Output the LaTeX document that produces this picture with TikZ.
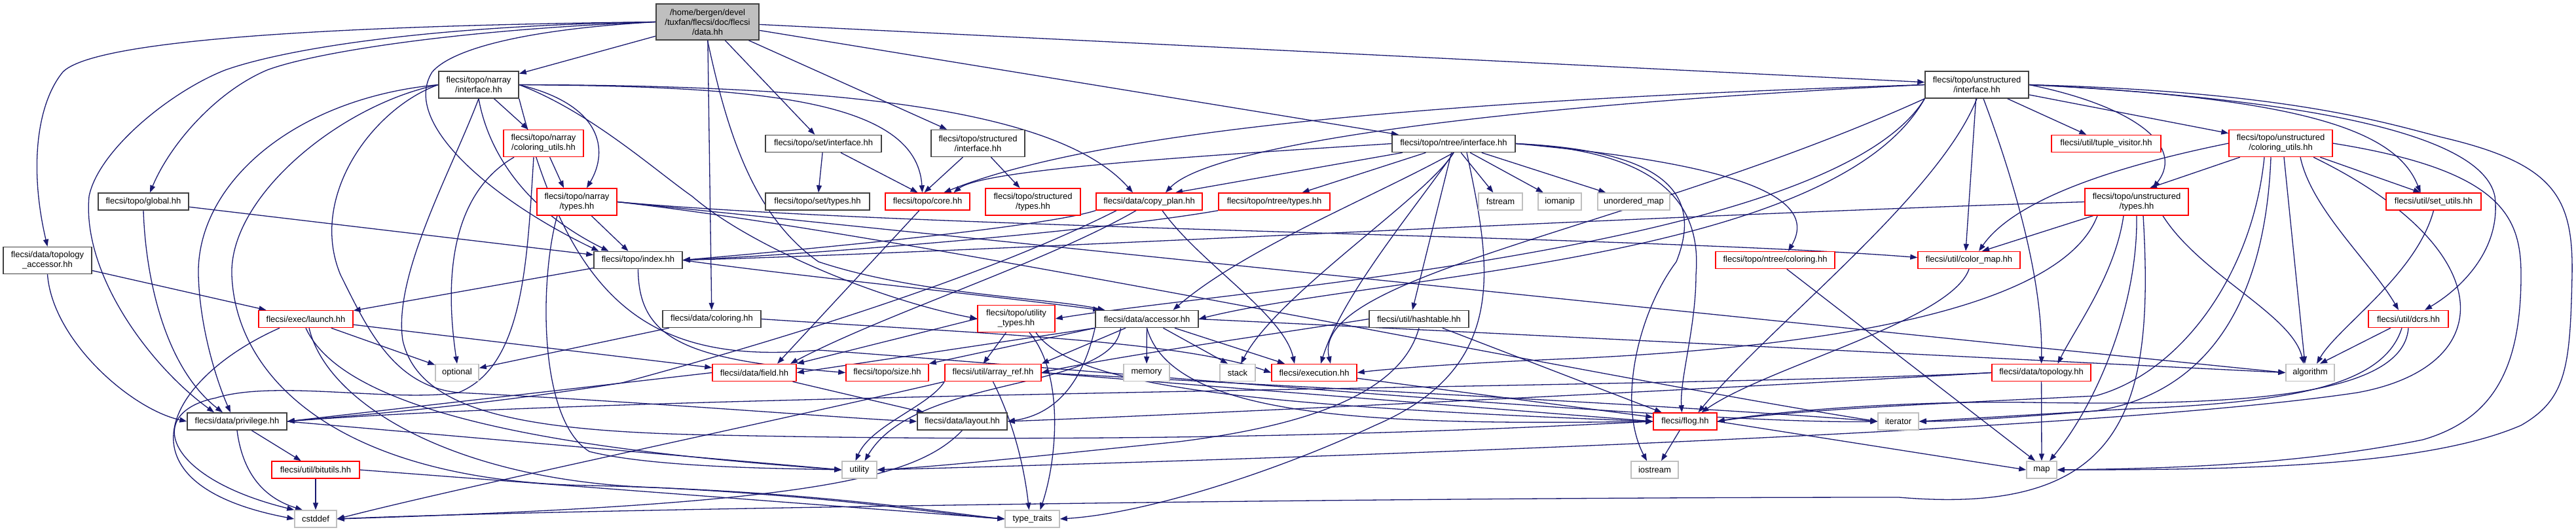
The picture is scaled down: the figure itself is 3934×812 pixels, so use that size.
\documentclass[tikz,border=0pt]{standalone}
\usepackage{fontspec}
\setmainfont{Liberation Sans}
\usetikzlibrary{arrows.meta}
\definecolor{edgeblue}{HTML}{191970}
\definecolor{gdark}{HTML}{404040}
\definecolor{glight}{HTML}{BFBFBF}
\pgfdeclarelayer{bg}
\pgfsetlayers{bg,main}
\begin{document}
\begin{tikzpicture}[x=1pt,y=-1pt,
  nb/.style={draw=gdark, fill=white, line width=1.5pt, rectangle, inner sep=0pt, align=center, font=\fontsize{13}{15}\selectfont},
  nr/.style={nb, draw=red},
  ng/.style={nb, draw=glight},
  rootn/.style={nb, fill=glight},
  wd/.style={minimum width=#1},
  h1/.style={minimum height=26},
  h2/.style={minimum height=41},
  edg/.style={draw=edgeblue, line width=1.3pt, -{Triangle[length=11pt,width=8pt]}},
]
\useasboundingbox (0,0) rectangle (3934,812);
% ---------- nodes ----------
\node[rootn, wd=157, minimum height=55] (D) at (1080.5,33.5) {/home/bergen/devel\\/tuxfan/flecsi/doc/flecsi\\/data.hh};
\node[nb, wd=135, h2] (TA) at (72.5,398) {flecsi/data/topology\\\_accessor.hh};
\node[nb, wd=138, h1] (GL) at (219,308) {flecsi/topo/global.hh};
\node[nb, wd=122, h2] (NI) at (731,129.5) {flecsi/topo/narray\\/interface.hh};
\node[nr, wd=122, h2] (NCU) at (830,219) {flecsi/topo/narray\\/coloring\_utils.hh};
\node[nr, wd=122, h2] (NT) at (881,308.5) {flecsi/topo/narray\\/types.hh};
\node[nb, wd=135, h1] (IX) at (974.5,397.5) {flecsi/topo/index.hh};
\node[nr, wd=144, h1] (LA) at (467,487.5) {flecsi/exec/launch.hh};
\node[ng, wd=66, h1] (OP) at (698,569.5) {optional};
\node[nb, wd=152, h1] (PR) at (362,644) {flecsi/data/privilege.hh};
\node[nr, wd=134, h1] (BU) at (482,718) {flecsi/util/bitutils.hh};
\node[ng, wd=64, h1] (CS) at (482,793) {cstddef};
\node[nb, wd=177, h1] (SI) at (1257.5,219.5) {flecsi/topo/set/interface.hh};
\node[nb, wd=143, h2] (STI) at (1493.5,219) {flecsi/topo/structured\\/interface.hh};
\node[nb, wd=159, h1] (ST) at (1248.5,308) {flecsi/topo/set/types.hh};
\node[nr, wd=129, h1] (CO) at (1416.5,308) {flecsi/topo/core.hh};
\node[nr, wd=145, h2] (STT) at (1577.5,308.5) {flecsi/topo/structured\\/types.hh};
\node[nr, wd=162, h1] (CP) at (1755,308) {flecsi/data/copy\_plan.hh};
\node[nr, wd=170, h1] (NTT) at (1946,308) {flecsi/topo/ntree/types.hh};
\node[nb, wd=150, h1] (DC) at (1087,487.5) {flecsi/data/coloring.hh};
\node[nr, wd=118, h2] (UTY) at (1552,487) {flecsi/topo/utility\\\_types.hh};
\node[nb, wd=157, h1] (AC) at (1751.5,487.5) {flecsi/data/accessor.hh};
\node[nr, wd=128, h1] (FI) at (1152,569.5) {flecsi/data/field.hh};
\node[nr, wd=126, h1] (SZ) at (1355,569.5) {flecsi/topo/size.hh};
\node[nr, wd=147, h1] (AR) at (1516.5,569.5) {flecsi/util/array\_ref.hh};
\node[ng, wd=70, h1] (ME) at (1751,569.5) {memory};
\node[ng, wd=54, h1] (STK) at (1890,569.5) {stack};
\node[nr, wd=130, h1] (EX) at (2007,569.5) {flecsi/execution.hh};
\node[nb, wd=137, h1] (LY) at (1469.5,644) {flecsi/data/layout.hh};
\node[ng, wd=53, h1] (UTIL) at (1312.5,718) {utility};
\node[ng, wd=83, h1] (TT) at (1576.5,793) {type\_traits};
\node[nb, wd=188, h1] (NTI) at (2220,219.5) {flecsi/topo/ntree/interface.hh};
\node[ng, wd=67, h1] (FS) at (2291.5,308) {fstream};
\node[ng, wd=66, h1] (IM) at (2382,308) {iomanip};
\node[ng, wd=110, h1] (UM) at (2495,308) {unordered\_map};
\node[nr, wd=182, h1] (NTC) at (2711,397.5) {flecsi/topo/ntree/coloring.hh};
\node[nb, wd=152, h1] (HT) at (2167,487.5) {flecsi/util/hashtable.hh};
\node[nr, wd=97, h1] (FL) at (2573.5,644) {flecsi/flog.hh};
\node[ng, wd=72, h1] (IOS) at (2527,718) {iostream};
\node[ng, wd=62, h1] (IT) at (2899,644) {iterator};
\node[nb, wd=158, h2] (UI) at (3019,129.5) {flecsi/topo/unstructured\\/interface.hh};
\node[nr, wd=167, h1] (TV) at (3216.5,219.5) {flecsi/util/tuple\_visitor.hh};
\node[nr, wd=158, h2] (UCU) at (3483,219) {flecsi/topo/unstructured\\/coloring\_utils.hh};
\node[nr, wd=158, h2] (UT) at (3263,308.5) {flecsi/topo/unstructured\\/types.hh};
\node[nr, wd=145, h1] (SU) at (3716.5,308) {flecsi/util/set\_utils.hh};
\node[nr, wd=156, h1] (CM) at (3007,397.5) {flecsi/util/color\_map.hh};
\node[nr, wd=151, h1] (TOP) at (3117.5,569.5) {flecsi/data/topology.hh};
\node[ng, wd=74, h1] (ALG) at (3528,569.5) {algorithm};
\node[nr, wd=122, h1] (DCRS) at (3678,487.5) {flecsi/util/dcrs.hh};
\node[ng, wd=46, h1] (MAP) at (3118,718) {map};
% ---------- edges ----------
\begin{pgfonlayer}{bg}
\fill[white] (0,0) rectangle (3934,812);
% data.hh
\draw[edg] (D.west) .. controls (450,40) and (140,65) .. (96,110) .. controls (55,160) and (45,260) .. (TA.north);
\draw[edg] (D.west) .. controls (620,40) and (420,80) .. (344,107) .. controls (260,140) and (150,230) .. (136,300) .. controls (125,420) and (230,560) .. ([xshift=-35pt]PR.north);
\draw[edg] (D.west) .. controls (700,45) and (480,80) .. (408,107) .. controls (330,140) and (260,220) .. ([xshift=10pt]GL.north);
\draw[edg] (D.west) .. controls (800,45) and (690,75) .. (660,110) .. controls (610,190) and (760,310) .. ([xshift=-60pt]IX.north);
\draw[edg] (D) -- (NI);
\draw[edg] (D) -- (DC);
\draw[edg] (D) -- (SI);
\draw[edg] (D) -- (STI);
\draw[edg] (D) -- (NTI);
\draw[edg] (D) -- (UI);
\draw[edg] (D.south) .. controls (1110,200) and (1150,330) .. (1250,400) .. controls (1400,450) and (1600,455) .. ([xshift=15pt]AC.north west);
% topology_accessor, global
\draw[edg] (TA.south) .. controls (80,520) and (200,625) .. (PR.west);
\draw[edg] (TA) -- (LA);
\draw[edg] (GL.south) .. controls (222,420) and (250,560) .. ([xshift=-22pt]PR.north);
\draw[edg] (GL) -- (IX);
% narray/interface
\draw[edg] (NI) -- (NCU);
\draw[edg] (NI.east) .. controls (920,160) and (930,230) .. ([xshift=15pt]NT.north);
\draw[edg] (NI.west) .. controls (450,150) and (300,280) .. (303,420) .. controls (305,500) and (330,580) .. ([xshift=-10pt]PR.north);
\draw[edg] (NI.west) .. controls (520,160) and (350,300) .. (354,420) .. controls (360,580) and (520,735) .. (900,742) .. controls (1250,750) and (1450,785) .. (TT.west);
\draw[edg] (NI.west) .. controls (570,165) and (470,300) .. (520,420) .. controls (560,500) and (600,590) .. (700,600) .. controls (1000,615) and (1300,640) .. (LY.west);
\draw[edg] (NI.south) .. controls (690,260) and (600,420) .. (615,520) .. controls (640,630) and (800,660) .. (1100,665) .. controls (1800,680) and (2300,655) .. (FL.west);
\draw[edg] (NI.south) .. controls (745,230) and (800,320) .. ([xshift=-45pt]IX.north);
\draw[edg] (NI.east) .. controls (1150,132) and (1400,150) .. ([xshift=-8pt]CO.north);
\draw[edg] (NI.east) .. controls (1300,130) and (1620,170) .. ([xshift=-25pt]CP.north);
\draw[edg] (NI.east) .. controls (900,170) and (1000,260) .. (1057,300) .. controls (1150,380) and (1350,460) .. (UTY.west);
\draw[edg] (NI.south east) .. controls (870,450) and (980,560) .. (1250,535) .. controls (1600,560) and (2600,650) .. (IT.west);
% narray/coloring_utils
\draw[edg] (NCU) -- ([xshift=-20pt]NT.north);
\draw[edg] ([xshift=-45pt]NCU.south) .. controls (700,290) and (675,400) .. (OP.north);
\draw[edg] ([xshift=-15pt]NCU.south) .. controls (805,400) and (800,560) .. (700,600) .. controls (600,615) and (420,580) .. (330,608) .. controls (220,630) and (250,730) .. (CS.north west);
% narray/types
\draw[edg] (NT) -- ([xshift=-15pt]IX.north);
\draw[edg] ([xshift=-30pt]NT.south) .. controls (825,420) and (820,640) .. (900,690) .. controls (1000,715) and (1200,716) .. (UTIL.west);
\draw[edg] (NT.east) .. controls (1400,350) and (2500,360) .. ([yshift=4pt]CM.west);
\draw[edg] (NT.east) .. controls (1400,355) and (2800,500) .. (ALG.west);
\draw[edg] (NT.east) .. controls (1400,360) and (2400,570) .. (IT.west);
% index
\draw[edg] (IX) -- (LA);
\draw[edg] (IX.south) .. controls (975,520) and (1050,550) .. (SZ.west);
\draw[edg] (IX.east) .. controls (1200,420) and (1500,450) .. ([xshift=8pt]AC.north west);
% launch
\draw[edg] (LA) -- (OP);
\draw[edg] (LA) -- (FI);
\draw[edg] ([xshift=-40pt]LA.south) .. controls (250,580) and (170,740) .. (CS.west);
\draw[edg] (LA.south) .. controls (530,640) and (900,690) .. (UTIL.west);
\draw[edg] ([xshift=5pt]LA.south) .. controls (500,620) and (700,735) .. (1000,745) .. controls (1300,760) and (1450,788) .. (TT.west);
% privilege, bitutils
\draw[edg] (PR) -- (BU);
\draw[edg] (PR.south) .. controls (370,720) and (400,760) .. ([xshift=-20pt]CS.north);
\draw[edg] (PR.east) -- (UTIL.west);
\draw[edg] (BU) -- (CS);
\draw[edg] (BU.east) -- (TT.west);
% data/coloring
\draw[edg] (DC) -- (OP);
\draw[edg] (DC.east) .. controls (1500,510) and (1800,520) .. (EX.west);
% set, structured, core
\draw[edg] (SI) -- (ST);
\draw[edg] (SI) -- ([xshift=-15pt]CO.north);
\draw[edg] (STI) -- ([xshift=-5pt]CO.north);
\draw[edg] (STI) -- (STT);
\draw[edg] (CO) -- ([xshift=35pt]FI.north);
% copy_plan
\draw[edg] (CP.south west) .. controls (1600,345) and (1300,375) .. (IX.east);
\draw[edg] ([xshift=-20pt]CP.south) .. controls (1600,400) and (1350,480) .. ([xshift=55pt]FI.north);
\draw[edg] ([xshift=20pt]CP.south) .. controls (1830,400) and (1960,480) .. ([xshift=-30pt]EX.north);
\draw[edg] ([xshift=-50pt]CP.south) .. controls (1550,400) and (1300,490) .. (950,585) .. controls (700,625) and (500,638) .. (PR.east);
% utility_types
\draw[edg] (UTY.west) -- (FI.north east);
\draw[edg] (UTY) -- ([xshift=-15pt]AR.north);
\draw[edg] ([xshift=20pt]UTY.south) .. controls (1625,570) and (1615,700) .. ([xshift=12pt]TT.north);
\draw[edg] ([xshift=30pt]UTY.south) .. controls (1640,590) and (1900,620) .. (FL.west);
% accessor
\draw[edg] (AC.south west) -- (FI.east);
\draw[edg] (AC.south west) -- (SZ.north east);
\draw[edg] (AC) -- (AR.north east);
\draw[edg] (AC) -- (ME);
\draw[edg] (AC) -- ([xshift=-15pt]STK.north);
\draw[edg] (AC) -- ([xshift=-45pt]EX.north);
\draw[edg] (AC.south) .. controls (1790,640) and (2100,650) .. (FL.west);
\draw[edg] (AC.south west) .. controls (1650,600) and (1600,635) .. (LY.east);
\draw[edg] (AC.east) .. controls (2300,510) and (3000,545) .. (ALG.west);
\draw[edg] ([xshift=-40pt]AC.south) .. controls (1700,600) and (1400,570) .. ([xshift=8pt]UTIL.north);
% field, array_ref, execution, layout
\draw[edg] (FI) -- (LY);
\draw[edg] (FI.west) -- (PR.east);
\draw[edg] (AR.south west) .. controls (1420,620) and (1330,650) .. ([xshift=-6pt]UTIL.north);
\draw[edg] (AR.south) .. controls (1550,650) and (1565,720) .. ([xshift=-5pt]TT.north);
\draw[edg] (AR.south west) .. controls (1200,640) and (700,745) .. (CS.east);
\draw[edg] (AR.east) -- (FL.west);
\draw[edg] (AR.east) .. controls (2000,592) and (2600,622) .. (IT.west);
\draw[edg] (EX) -- (FL);
\draw[edg] (LY.south) .. controls (1400,730) and (1250,770) .. (CS.east);
% hashtable, flog
\draw[edg] (HT.west) .. controls (1950,510) and (1700,545) .. (AR.east);
\draw[edg] (HT) -- (FL);
\draw[edg] (HT.south) .. controls (2140,600) and (2000,650) .. (1800,675) .. controls (1600,695) and (1450,712) .. (UTIL.east);
\draw[edg] (FL) -- ([xshift=10pt]IOS.north);
\draw[edg] (FL.east) -- (MAP.west);
% ntree types / coloring, color_map
\draw[edg] (NTT.south west) .. controls (1700,350) and (1300,385) .. (IX.east);
\draw[edg] (NTC) -- ([xshift=-10pt]MAP.north);
\draw[edg] (CM.south) .. controls (2980,490) and (2700,560) .. ([xshift=25pt]FL.north);
% unstructured/interface
\draw[edg] (UI.west) .. controls (2300,150) and (1700,190) .. ([xshift=25pt]CO.north);
\draw[edg] (UI.west) .. controls (2300,160) and (1850,220) .. ([xshift=25pt]CP.north);
\draw[edg] (UI) -- (TV);
\draw[edg] (UI) -- (UCU);
\draw[edg] (UI.east) .. controls (3250,160) and (3340,220) .. ([xshift=25pt]UT.north);
\draw[edg] (UI) -- ([xshift=-5pt]CM.north);
\draw[edg] (UI.east) .. controls (3520,150) and (3660,200) .. ([xshift=-20pt]SU.north);
\draw[edg] (UI.east) .. controls (3500,140) and (3650,190) .. (3730,210) .. controls (3900,250) and (3930,300) .. (3928,420) .. controls (3925,560) and (3920,610) .. (3850,650) .. controls (3700,715) and (3400,718) .. (MAP.east);
\draw[edg] ([xshift=10pt]UI.south) .. controls (3070,260) and (3120,420) .. (TOP.north);
\draw[edg] (UI.east) .. controls (3500,150) and (3790,200) .. (3810,300) .. controls (3820,380) and (3760,440) .. ([xshift=25pt]DCRS.north);
\draw[edg] (UI.south west) .. controls (2800,400) and (2100,420) .. (AC.east);
\draw[edg] (UI.south west) .. controls (2800,380) and (1900,440) .. (UTY.east);
\draw[edg] (UI.south west) .. controls (2500,350) and (2000,420) .. ([xshift=25pt]EX.north);
\draw[edg] (UI.south) .. controls (2960,300) and (2700,500) .. ([xshift=20pt]FL.north);
% ntree/interface
\draw[edg] (NTI.west) .. controls (1800,240) and (1500,260) .. ([xshift=40pt]CO.north);
\draw[edg] (NTI) -- ([xshift=40pt]CP.north);
\draw[edg] (NTI) -- (NTT);
\draw[edg] (NTI.south) .. controls (2100,300) and (1900,380) .. ([xshift=40pt]AC.north);
\draw[edg] (NTI.south) .. controls (2180,300) and (1950,450) .. ([xshift=5pt]STK.north);
\draw[edg] (NTI) -- ([xshift=-10pt]HT.north);
\draw[edg] ([xshift=20pt]NTI.south) .. controls (2275,400) and (2310,560) .. (2100,650) .. controls (1950,720) and (1750,785) .. (TT.east);
\draw[edg] (NTI.east) .. controls (2550,230) and (2600,300) .. (2560,400) .. controls (2500,480) and (2470,620) .. ([xshift=-12pt]IOS.north);
\draw[edg] (NTI.east) .. controls (2520,230) and (2600,300) .. (2590,420) .. controls (2590,500) and (2565,580) .. ([xshift=-5pt]FL.north);
\draw[edg] (NTI.east) .. controls (2650,250) and (2780,300) .. ([xshift=20pt]NTC.north);
\draw[edg] (NTI) -- (FS);
\draw[edg] (NTI) -- (IM);
\draw[edg] (NTI) -- (UM);
\draw[edg] (NTI.south) .. controls (2160,320) and (2050,450) .. ([xshift=10pt]EX.north);
% unstructured/coloring_utils
\draw[edg] (UCU) -- ([xshift=20pt]UT.north);
\draw[edg] (UCU.west) .. controls (3250,250) and (3080,300) .. ([xshift=15pt]CM.north);
\draw[edg] (UCU) -- ([xshift=-20pt]SU.north);
\draw[edg] ([xshift=30pt]UCU.south) .. controls (3530,320) and (3620,400) .. ([xshift=-15pt]DCRS.north);
\draw[edg] ([xshift=5pt]UCU.south) -- ([xshift=-8pt]ALG.north);
\draw[edg] (UCU.east) .. controls (3820,260) and (3850,330) .. (3850,420) .. controls (3850,560) and (3810,640) .. (3700,672) .. controls (3500,712) and (3300,716) .. (MAP.east);
\draw[edg] ([xshift=-15pt]UCU.south) .. controls (3460,450) and (3380,600) .. (3200,628) .. controls (3050,640) and (2980,644) .. (IT.east);
\draw[edg] ([xshift=-25pt]UCU.south) .. controls (3440,420) and (3330,570) .. (3200,605) .. controls (3000,615) and (2750,625) .. (FL.east);
\draw[edg] ([xshift=50pt]UCU.south) .. controls (3820,380) and (3820,560) .. (3600,600) .. controls (3200,660) and (2000,700) .. (UTIL.east);
% unstructured/types
\draw[edg] (UT) -- ([xshift=20pt]CM.north);
\draw[edg] (UT.west) .. controls (2500,330) and (1500,385) .. (IX.east);
\draw[edg] ([xshift=-20pt]UT.south) .. controls (3230,420) and (3170,500) .. ([xshift=25pt]TOP.north);
\draw[edg] (UT.south) .. controls (3265,470) and (3200,620) .. ([xshift=12pt]MAP.north);
\draw[edg] ([xshift=40pt]UT.south) .. controls (3360,420) and (3500,480) .. ([xshift=-10pt]ALG.north);
\draw[edg] ([xshift=10pt]UT.south) .. controls (3290,620) and (3250,790) .. (2900,760) .. controls (2000,760) and (800,780) .. (CS.east);
\draw[edg] ([xshift=-60pt]UT.south) .. controls (3150,470) and (2800,530) .. (2400,548) .. controls (2200,556) and (2100,566) .. (EX.east);
% dcrs, set_utils, topology
\draw[edg] (DCRS) -- ([xshift=15pt]ALG.north);
\draw[edg] ([xshift=-10pt]DCRS.south) .. controls (3640,590) and (3500,615) .. (3250,625) .. controls (3100,634) and (3000,640) .. (IT.east);
\draw[edg] (DCRS.south) .. controls (3670,610) and (3400,620) .. (3100,615) .. controls (2900,612) and (2700,630) .. (FL.east);
\draw[edg] (SU.south) .. controls (3690,420) and (3570,500) .. ([xshift=10pt]ALG.north);
\draw[edg] (TOP.west) .. controls (2600,592) and (1000,600) .. (PR.east);
\draw[edg] (TOP.west) .. controls (2700,590) and (1900,630) .. (LY.east);
\draw[edg] (TOP) -- (MAP);
\end{pgfonlayer}
\end{tikzpicture}
\end{document}
